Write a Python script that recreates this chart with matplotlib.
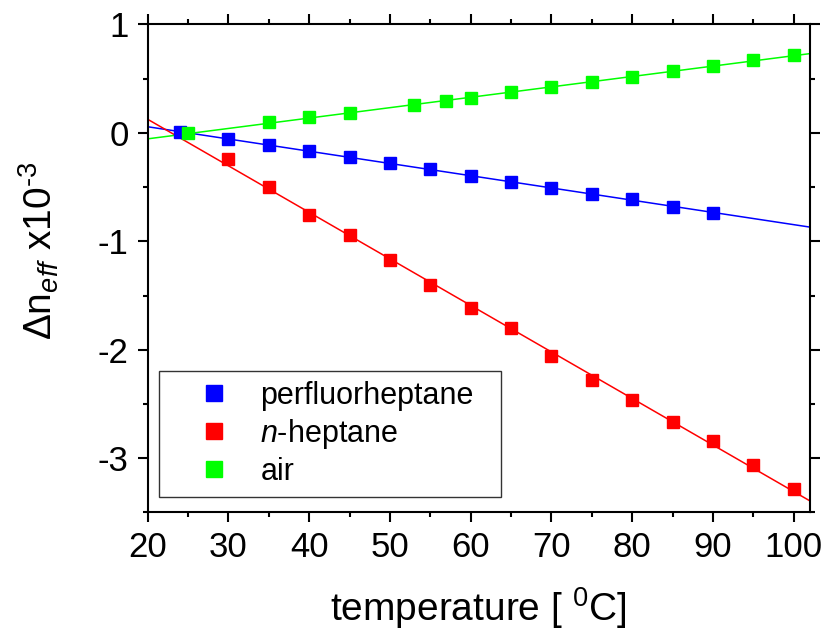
import numpy as np
import matplotlib
matplotlib.use("Agg")
import matplotlib.pyplot as plt
from matplotlib.ticker import MultipleLocator

plt.rcParams['font.family'] = ['Liberation Sans', 'DejaVu Sans']
plt.rcParams['mathtext.fontset'] = 'custom'
plt.rcParams['mathtext.rm'] = 'Liberation Sans'
plt.rcParams['mathtext.it'] = 'Liberation Sans:italic'
plt.rcParams['mathtext.sf'] = 'Liberation Sans'

# Effective index change (x10^-3) versus temperature
t_pfh = [24, 30, 35, 40, 45, 50, 55, 60, 65, 70, 75, 80, 85, 90]
dn_pfh = [0.01, -0.055, -0.114, -0.169, -0.224, -0.28, -0.335, -0.40,
          -0.45, -0.506, -0.568, -0.614, -0.68, -0.735]

t_hep = [30, 35, 40, 45, 50, 55, 60, 65, 70, 75, 80, 85, 90, 95, 100]
dn_hep = [-0.243, -0.497, -0.755, -0.942, -1.172, -1.405, -1.614, -1.80,
          -2.06, -2.276, -2.463, -2.668, -2.846, -3.06, -3.288]

t_air = [25, 35, 40, 45, 53, 57, 60, 65, 70, 75, 80, 85, 90, 95, 100]
dn_air = [0.0, 0.098, 0.144, 0.18, 0.254, 0.29, 0.322, 0.374, 0.42,
          0.472, 0.52, 0.567, 0.616, 0.672, 0.72]

labels = ['perfluorheptane', '$n$-heptane', 'air']
colors = ['#0000ff', '#ff0000', '#00ff00']
yticks = [-3, -2, -1, 0, 1]
ytick_labels = ['-3', '-2', '-1', '0', '1']

fig = plt.figure(figsize=(8.29, 6.38), dpi=100)
ax = fig.add_axes([0.178, 0.197, 0.799, 0.7646])

# linear fits drawn across the full temperature range
x_fit = np.array([20.0, 102.0])
series = [(t_pfh, dn_pfh), (t_hep, dn_hep), (t_air, dn_air)]
for (t, dn), c in zip(series, colors):
    k, b = np.polyfit(t, dn, 1)
    ax.plot(x_fit, k * x_fit + b, color=c, lw=1.1, zorder=2)

handles = []
for (t, dn), c, lab in zip(series, colors, labels):
    h, = ax.plot(t, dn, ls='none', marker='s', ms=8.6, color=c,
                 mec=c, label=lab, zorder=3)
    handles.append(h)

ax.set_xlim(20, 102)
ax.set_ylim(-3.5, 1)
ax.xaxis.set_major_locator(MultipleLocator(10))
ax.xaxis.set_minor_locator(MultipleLocator(5))
ax.yaxis.set_minor_locator(MultipleLocator(0.5))
ax.set_yticks(yticks)
ax.set_yticklabels(ytick_labels)
ax.tick_params(which='both', direction='out', top=True, right=True,
               width=1.5, labelsize=25, pad=6)
ax.tick_params(which='major', length=7.5)
ax.tick_params(which='minor', length=3.8)
for s in ax.spines.values():
    s.set_linewidth(1.5)

ax.set_xlabel('temperature [ $^{0}$C]', fontsize=28, labelpad=15)
ax.set_ylabel(r'$\Delta$n$_{eff}$ x10$^{\text{-3}}$', fontsize=28)
ax.yaxis.set_label_coords(-0.13, 0.535)

leg = ax.legend(handles=handles, loc='lower left',
                bbox_to_anchor=(0.017, 0.032, 0.516, 0.261), mode='expand',
                borderaxespad=0, fontsize=22, markerscale=1.3,
                fancybox=False, frameon=True, handlelength=3.0,
                handletextpad=0.0, borderpad=0.32, labelspacing=0.2)
leg.get_frame().set_edgecolor('black')
leg.get_frame().set_linewidth(1.0)

fig.savefig('out.png', dpi=100)
